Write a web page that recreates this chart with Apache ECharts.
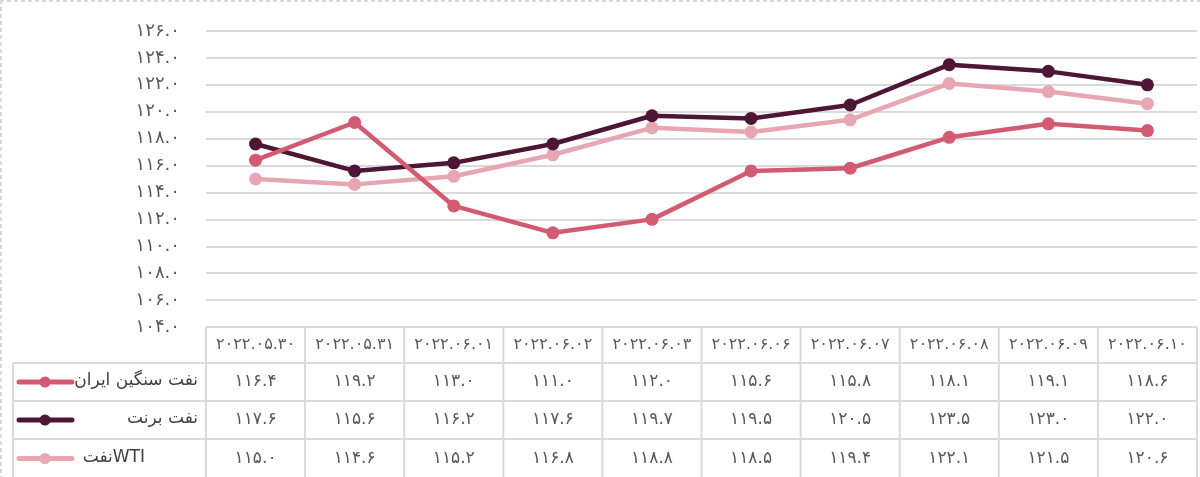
<!DOCTYPE html>
<html>
<head>
<meta charset="utf-8">
<script src="https://cdn.jsdelivr.net/npm/echarts@6/dist/echarts.min.js"></script>
<style>
html, body { margin: 0; padding: 0; background: #fff; }
#oil-price-line { width: 1200px; height: 477px; }
</style>
</head>
<body>
<div id="oil-price-line"></div>
<script>
// داده‌ها
var dates = ['۲۰۲۲.۰۵.۳۰', '۲۰۲۲.۰۵.۳۱', '۲۰۲۲.۰۶.۰۱', '۲۰۲۲.۰۶.۰۲', '۲۰۲۲.۰۶.۰۳',
             '۲۰۲۲.۰۶.۰۶', '۲۰۲۲.۰۶.۰۷', '۲۰۲۲.۰۶.۰۸', '۲۰۲۲.۰۶.۰۹', '۲۰۲۲.۰۶.۱۰']
var seriesNames = ['نفت سنگین ایران', 'نفت برنت', 'نفتWTI']
var iranHeavy = [116.4, 119.2, 113.0, 111.0, 112.0, 115.6, 115.8, 118.1, 119.1, 118.6]
var brent = [117.6, 115.6, 116.2, 117.6, 119.7, 119.5, 120.5, 123.5, 123.0, 122.0]
var wti = [115.0, 114.6, 115.2, 116.8, 118.8, 118.5, 119.4, 122.1, 121.5, 120.6]
var yMin = 104, yMax = 126, yStep = 2

var colorArr = ['#d35a73', '#4d1634', '#e8a6b3']
var fontFa = '"DejaVu Sans", "Noto Sans", sans-serif'
var gridColor = '#dadada'

// اعداد فارسی
function faNum(v) {
  return v.toFixed(1).replace(/[0-9]/g, function (d) { return '۰۱۲۳۴۵۶۷۸۹'[d] })
}

var myChart = echarts.init(document.getElementById('oil-price-line'))
var allData = [iranHeavy, brent, wti]

var option = {
  animation: false,
  grid: { left: 206, right: 3, top: 31, bottom: 150 },
  xAxis: {
    type: 'category',
    data: dates,
    axisLine: { show: false },
    axisTick: { show: false },
    axisLabel: { show: false }
  },
  yAxis: {
    type: 'value',
    min: yMin,
    max: yMax,
    interval: yStep,
    axisLine: { show: false },
    axisTick: { show: false },
    axisLabel: {
      margin: 26,
      color: '#595959',
      fontSize: 18,
      fontFamily: fontFa,
      formatter: function (v) { return faNum(v) }
    },
    splitLine: { lineStyle: { color: gridColor, width: 2 } }
  },
  series: allData.map(function (d, i) {
    return {
      name: seriesNames[i],
      type: 'line',
      data: d,
      symbol: 'circle',
      symbolSize: 13,
      lineStyle: { width: 4.5, color: colorArr[i] },
      itemStyle: { color: colorArr[i] },
      z: i === 0 ? 4 : (i === 1 ? 3 : 2)
    }
  })
}
myChart.setOption(option)

// جدول داده زیر نمودار
function drawTable() {
  var xs = dates.map(function (d, i) { return myChart.convertToPixel({ xAxisIndex: 0 }, i) })
  var colW = xs[1] - xs[0]
  var left = xs[0] - colW / 2
  var right = xs[xs.length - 1] + colW / 2
  var keyLeft = 13
  var rowY = [327, 363, 401, 439, 478]
  var els = []
  var line = function (x1, y1, x2, y2) {
    els.push({ type: 'line', shape: { x1: x1, y1: y1, x2: x2, y2: y2 },
      style: { stroke: gridColor, lineWidth: 2 }, silent: true })
  }
  var txt = function (x, y, s, align, color, size) {
    els.push({ type: 'text', x: x, y: y, silent: true,
      style: { text: s, align: align, verticalAlign: 'middle', fill: color,
        fontSize: size, fontFamily: fontFa } })
  }
  // خطوط افقی
  line(left, rowY[0], right, rowY[0])
  for (var r = 1; r < 4; r++) line(keyLeft, rowY[r], right, rowY[r])
  // خطوط عمودی
  for (var c = 0; c <= dates.length; c++) {
    var x = left + c * colW
    line(x, rowY[0], x, rowY[4])
  }
  line(keyLeft, rowY[1], keyLeft, rowY[4])
  // سرستون‌ها
  dates.forEach(function (d, i) {
    txt(xs[i], (rowY[0] + rowY[1]) / 2, d, 'center', '#595959', 16)
  })
  // ردیف‌ها
  allData.forEach(function (d, s) {
    var cy = (rowY[s + 1] + rowY[s + 2]) / 2
    d.forEach(function (v, i) { txt(xs[i], cy, faNum(v), 'center', '#595959', 17) })
    // نشانه سری
    els.push({ type: 'line', shape: { x1: 19, y1: cy, x2: 72, y2: cy }, silent: true,
      style: { stroke: colorArr[s], lineWidth: 5, lineCap: 'round' } })
    els.push({ type: 'circle', shape: { cx: 45, cy: cy, r: 5.5 }, silent: true,
      style: { fill: colorArr[s] } })
    txt(s === 2 ? 145 : 198, cy - 1, seriesNames[s], 'right', '#404040', 17)
  })
  // کادر خط‌چین
  els.push({ type: 'line', shape: { x1: 0, y1: 1, x2: 1200, y2: 1 }, silent: true,
    style: { stroke: '#d9d9d9', lineWidth: 2, lineDash: [4, 3] } })
  els.push({ type: 'line', shape: { x1: 1, y1: 0, x2: 1, y2: 477 }, silent: true,
    style: { stroke: '#d9d9d9', lineWidth: 2, lineDash: [4, 3] } })
  myChart.setOption({ graphic: { elements: els } })
}
drawTable()
</script>
</body>
</html>
